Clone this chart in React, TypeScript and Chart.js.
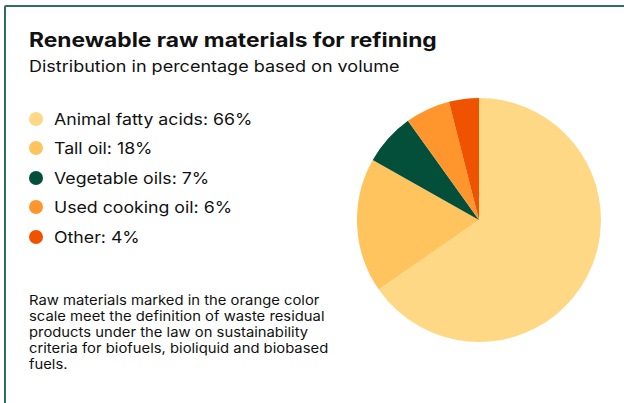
import React, { useEffect, useRef } from "react";
import { Chart, registerables } from "chart.js";

Chart.register(...registerables);

const categories = ["Animal fatty acids", "Tall oil", "Vegetable oils", "Used cooking oil", "Other"];
const values = [66, 18, 7, 6, 4];
const colors = ["#FFD886", "#FFC45E", "#044F3A", "#FF952D", "#F05300"];
const title = "Renewable raw materials for refining";
const subtitle = "Distribution in percentage based on volume";
const footnote =
  "Raw materials marked in the orange color scale meet the definition of waste residual products under the law on sustainability criteria for biofuels, bioliquid and biobased fuels.";

const FONT = "Inter, 'Noto Sans', sans-serif";

export default function App() {
  const ref = useRef<HTMLCanvasElement | null>(null);

  useEffect(() => {
    document.body.style.margin = "0";
    if (!ref.current) return;
    const chart = new Chart(ref.current, {
      type: "pie",
      data: {
        labels: categories,
        datasets: [
          {
            data: values,
            backgroundColor: colors,
            borderWidth: 0,
          },
        ],
      },
      options: {
        animation: false,
        responsive: false,
        maintainAspectRatio: false,
        layout: { padding: 0 },
        plugins: {
          legend: { display: false },
          tooltip: { enabled: false },
        },
      },
    });
    return () => chart.destroy();
  }, []);

  const wide = (s: number): React.CSSProperties => ({
    display: "inline-block",
    transform: `scaleX(${s})`,
    transformOrigin: "left center",
  });

  return (
    <div
      style={{
        position: "relative",
        width: 624,
        height: 403,
        overflow: "hidden",
        background: "#ffffff",
        fontFamily: FONT,
        color: "#111111",
      }}
    >
      <div
        style={{
          position: "absolute",
          left: 4,
          top: 5,
          width: 700,
          height: 500,
          border: "2px solid #2F6E5C",
          borderRadius: 2,
          boxSizing: "border-box",
        }}
      />
      <div
        style={{
          position: "absolute",
          left: 29,
          top: 27,
          fontSize: 20,
          fontWeight: 700,
          lineHeight: "26px",
          whiteSpace: "nowrap",
        }}
      >
        <span style={wide(1.14)}>{title}</span>
      </div>
      <div
        style={{
          position: "absolute",
          left: 29,
          top: 56,
          fontSize: 16,
          lineHeight: "20px",
          whiteSpace: "nowrap",
        }}
      >
        <span style={wide(1.125)}>{subtitle}</span>
      </div>
      <div style={{ position: "absolute", left: 29, top: 104 }}>
        {categories.map((c, i) => (
          <div
            key={c}
            style={{
              display: "flex",
              alignItems: "center",
              height: 29.5,
              fontSize: 16,
              whiteSpace: "nowrap",
            }}
          >
            <span
              style={{
                display: "inline-block",
                width: 14,
                height: 14,
                borderRadius: 7,
                background: colors[i],
                marginRight: 11,
              }}
            />
            <span style={wide(1.107)}>
              {c}: {values[i]}%
            </span>
          </div>
        ))}
      </div>
      <div
        style={{
          position: "absolute",
          left: 29,
          top: 292,
          width: 290,
          fontSize: 13.5,
          lineHeight: "16px",
          transform: "scaleX(1.097)",
          transformOrigin: "left top",
        }}
      >
        {footnote}
      </div>
      <canvas
        ref={ref}
        width={244}
        height={244}
        style={{ position: "absolute", left: 357, top: 98, width: 244, height: 244 }}
      />
    </div>
  );
}
